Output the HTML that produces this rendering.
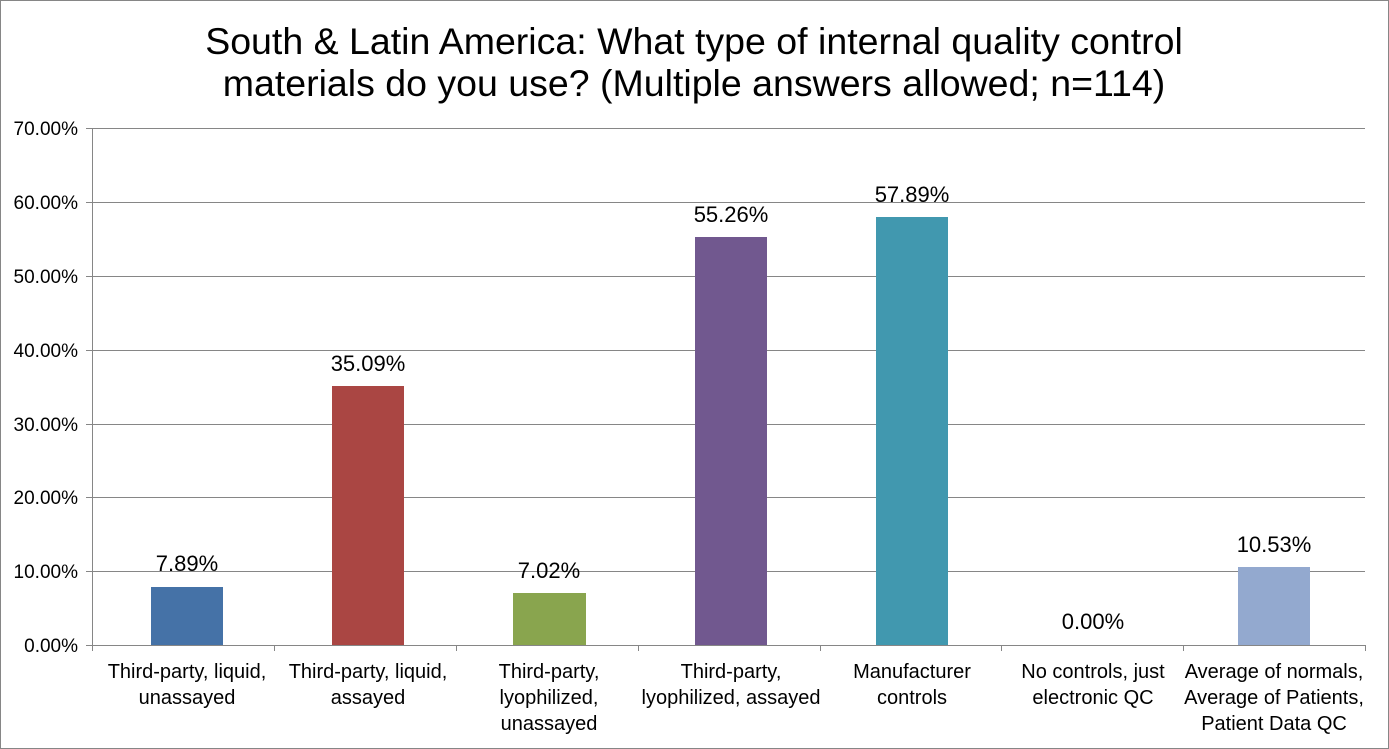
<!DOCTYPE html>
<html><head><style>body{margin:0;background:#fff}svg{display:block}text{font-family:"Liberation Sans",Arial,sans-serif;fill:#000}</style></head>
<body>
<svg width="1389" height="749" viewBox="0 0 1389 749" xmlns="http://www.w3.org/2000/svg">
<rect x="0.5" y="0.5" width="1388" height="748" fill="#fff" stroke="#868686"/>
<text x="694" y="54" font-size="37.5" text-anchor="middle">South &amp; Latin America: What type of internal quality control</text>
<text x="694" y="96" font-size="37.5" text-anchor="middle">materials do you use? (Multiple answers allowed; n=114)</text>
<g stroke="#868686" stroke-width="1">
<line x1="92" y1="128.5" x2="1365" y2="128.5"/>
<line x1="92" y1="202.5" x2="1365" y2="202.5"/>
<line x1="92" y1="276.5" x2="1365" y2="276.5"/>
<line x1="92" y1="350.5" x2="1365" y2="350.5"/>
<line x1="92" y1="424.5" x2="1365" y2="424.5"/>
<line x1="92" y1="497.5" x2="1365" y2="497.5"/>
<line x1="92" y1="571.5" x2="1365" y2="571.5"/>
<line x1="92" y1="645.5" x2="1365" y2="645.5"/>
<line x1="92.5" y1="128" x2="92.5" y2="651"/>
<line x1="86" y1="128.5" x2="92" y2="128.5"/><line x1="86" y1="202.5" x2="92" y2="202.5"/><line x1="86" y1="276.5" x2="92" y2="276.5"/><line x1="86" y1="350.5" x2="92" y2="350.5"/><line x1="86" y1="424.5" x2="92" y2="424.5"/><line x1="86" y1="497.5" x2="92" y2="497.5"/><line x1="86" y1="571.5" x2="92" y2="571.5"/><line x1="86" y1="645.5" x2="92" y2="645.5"/>
<line x1="274.5" y1="645" x2="274.5" y2="651"/><line x1="456.5" y1="645" x2="456.5" y2="651"/><line x1="638.5" y1="645" x2="638.5" y2="651"/><line x1="820.5" y1="645" x2="820.5" y2="651"/><line x1="1001.5" y1="645" x2="1001.5" y2="651"/><line x1="1183.5" y1="645" x2="1183.5" y2="651"/><line x1="1365.5" y1="645" x2="1365.5" y2="651"/>
</g>
<g font-size="19" text-anchor="end">
<text x="78" y="135">70.00%</text><text x="78" y="209">60.00%</text><text x="78" y="283">50.00%</text><text x="78" y="357">40.00%</text><text x="78" y="431">30.00%</text><text x="78" y="504">20.00%</text><text x="78" y="578">10.00%</text><text x="78" y="652">0.00%</text>
</g>
<rect x="151" y="587" width="72" height="58" fill="#4572a7"/>
<rect x="332" y="386" width="72" height="259" fill="#aa4643"/>
<rect x="513" y="593" width="73" height="52" fill="#89a54e"/>
<rect x="695" y="237" width="72" height="408" fill="#71588f"/>
<rect x="876" y="217" width="72" height="428" fill="#4198af"/>
<rect x="1238" y="567" width="72" height="78" fill="#93a9cf"/>
<g font-size="22" text-anchor="middle">
<text x="187" y="571">7.89%</text><text x="368" y="371">35.09%</text><text x="549" y="578">7.02%</text><text x="731" y="222">55.26%</text><text x="912" y="202">57.89%</text><text x="1093" y="629">0.00%</text><text x="1274" y="552">10.53%</text>
</g>
<g font-size="20" text-anchor="middle">
<text x="187" y="678">Third-party, liquid,</text><text x="187" y="704">unassayed</text>
<text x="368" y="678">Third-party, liquid,</text><text x="368" y="704">assayed</text>
<text x="549" y="678">Third-party,</text><text x="549" y="704">lyophilized,</text><text x="549" y="730">unassayed</text>
<text x="731" y="678">Third-party,</text><text x="731" y="704">lyophilized, assayed</text>
<text x="912" y="678">Manufacturer</text><text x="912" y="704">controls</text>
<text x="1093" y="678">No controls, just</text><text x="1093" y="704">electronic QC</text>
<text x="1274" y="678">Average of normals,</text><text x="1274" y="704">Average of Patients,</text><text x="1274" y="730">Patient Data QC</text>
</g>
</svg>
</body></html>
